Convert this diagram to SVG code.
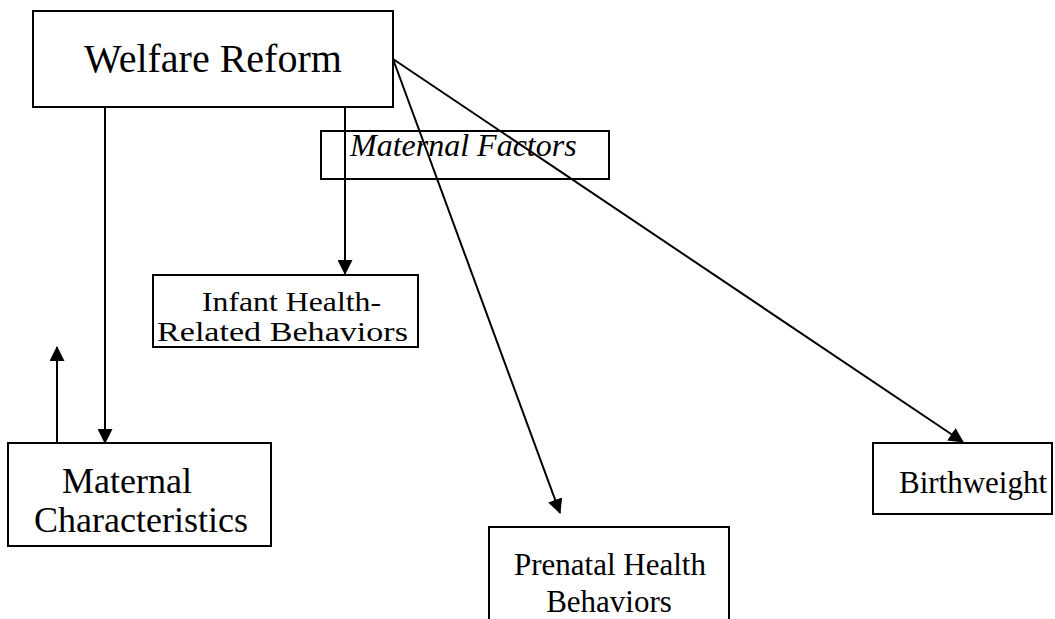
<svg xmlns="http://www.w3.org/2000/svg" width="1055" height="619" viewBox="0 0 1055 619">
<style>
.box{fill:#fff;stroke:#000;stroke-width:2}
.t{font-family:"Liberation Serif","Times New Roman",serif;fill:#000}
.c{stroke:#000;stroke-width:2;fill:none;marker-end:url(#ah)}
</style>
<defs>
<marker id="ah" viewBox="0 0 15 15" refX="14" refY="7.5" markerWidth="15" markerHeight="15" markerUnits="userSpaceOnUse" orient="auto">
<path d="M0,0 L15,7.5 L0,15 Z" fill="#000"/>
</marker>
</defs>
<rect width="1055" height="619" fill="#fff"/>
<g id="welfare-reform">
<rect class="box" x="33" y="11" width="360" height="96"/>
<text class="t" x="213" y="72" font-size="40" text-anchor="middle">Welfare Reform</text>
</g>
<g id="maternal-factors">
<rect class="box" x="321" y="131" width="288" height="48"/>
<text class="t" x="350" y="156" font-size="32" font-style="italic">Maternal Factors</text>
</g>
<g id="infant-health">
<rect class="box" x="153" y="275" width="265" height="72"/>
<text class="t" x="202" y="311" font-size="28" textLength="179" lengthAdjust="spacingAndGlyphs">Infant Health-</text>
<text class="t" x="157" y="341" font-size="28" textLength="251" lengthAdjust="spacingAndGlyphs">Related Behaviors</text>
</g>
<g id="maternal-characteristics">
<rect class="box" x="8" y="443" width="263" height="103"/>
<text class="t" x="62" y="493" font-size="36">Maternal</text>
<text class="t" x="34" y="532" font-size="36">Characteristics</text>
</g>
<g id="prenatal">
<rect class="box" x="489" y="527" width="240" height="110"/>
<text class="t" x="610" y="575" font-size="31" text-anchor="middle">Prenatal Health</text>
<text class="t" x="609" y="612" font-size="31" text-anchor="middle">Behaviors</text>
</g>
<g id="birthweight">
<rect class="box" x="873" y="443" width="179" height="71"/>
<text class="t" x="899" y="493" font-size="31">Birthweight</text>
</g>
<g id="connectors">
<line class="c" x1="105" y1="107" x2="105" y2="443"/>
<line class="c" x1="57" y1="443" x2="57" y2="347"/>
<line class="c" x1="345" y1="107" x2="345" y2="274"/>
<line class="c" x1="393" y1="59" x2="560" y2="513"/>
<line class="c" x1="393" y1="59" x2="963" y2="442"/>
</g>
</svg>
